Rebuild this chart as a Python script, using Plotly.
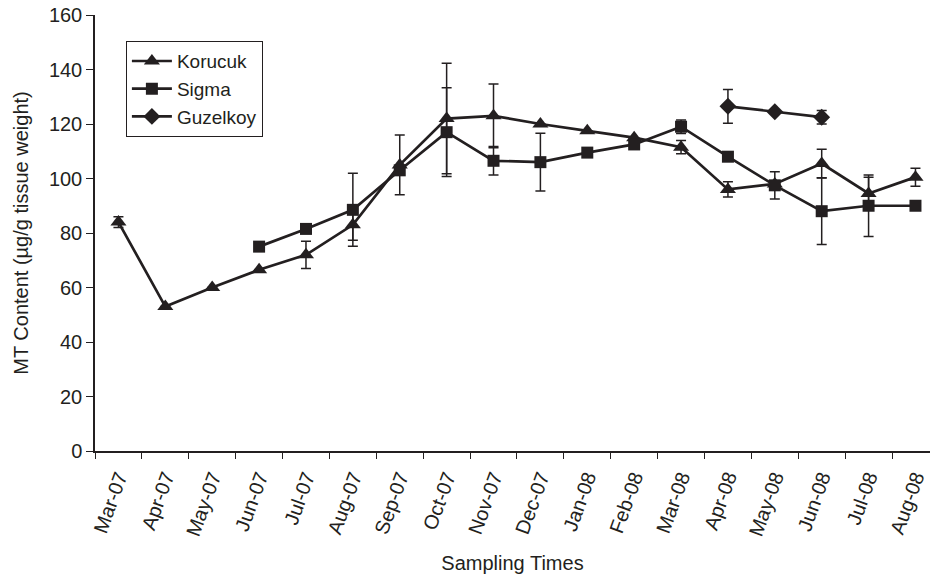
import plotly.graph_objects as go

months = ["Mar-07", "Apr-07", "May-07", "Jun-07", "Jul-07", "Aug-07", "Sep-07", "Oct-07", "Nov-07",
          "Dec-07", "Jan-08", "Feb-08", "Mar-08", "Apr-08", "May-08", "Jun-08", "Jul-08", "Aug-08"]

korucuk = [84, 53, 60, 66.5, 72, 83, 105, 122, 123, 120, 117.5, 115, 111.5, 96, 98, 105.5, 94.5, 100.5]
korucuk_err = [2, 0, 0, 0, 5, 5.7, 11, 20.3, 11.7, 0, 0, 0, 2.4, 2.8, 0, 5.2, 6, 3.3]

sigma = [None, None, None, 75, 81.5, 88.5, 103, 117, 106.5, 106, 109.5, 112.5, 119, 108, 97.5, 88, 90, 90]
sigma_err = [None, None, None, 0, 0, 13.4, 0, 16.3, 5.2, 10.6, 0, 0, 2.5, 1.5, 5, 12.2, 11.3, 0]

guzelkoy = [None] * 13 + [126.5, 124.5, 122.5, None, None]
guzelkoy_err = [None] * 13 + [6.2, 0, 2.5, None, None]

yticks = [0, 20, 40, 60, 80, 100, 120, 140, 160]

INK = "#231f20"
FONT = "Liberation Sans, Arial, sans-serif"

def series(name, y, err, symbol, size):
    return go.Scatter(
        x=months, y=y, name=name, mode="lines+markers",
        line=dict(color=INK, width=2.7),
        marker=dict(symbol=symbol, size=size, color=INK),
        error_y=dict(type="data", array=err, visible=True, color=INK, thickness=1.5, width=5),
        connectgaps=False,
    )

fig = go.Figure()
fig.add_trace(series("Korucuk", korucuk, korucuk_err, "triangle-up", 14))
fig.add_trace(series("Sigma", sigma, sigma_err, "square", 12))
fig.add_trace(series("Guzelkoy", guzelkoy, guzelkoy_err, "diamond", 13))

fig.update_layout(
    width=930, height=577,
    margin=dict(l=95, r=0, t=15, b=126),
    paper_bgcolor="white", plot_bgcolor="white",
    font=dict(family=FONT, size=20, color=INK),
    showlegend=True,
    legend=dict(x=0.037, y=0.94, xanchor="left", yanchor="top",
                bordercolor=INK, borderwidth=1, bgcolor="white",
                font=dict(size=19), tracegroupgap=0, itemwidth=40),
    xaxis=dict(
        type="category", categoryorder="array", categoryarray=months,
        range=[-0.5, 17.31], tickson="boundaries",
        ticks="outside", ticklen=6, tickcolor=INK, tickwidth=1,
        showline=True, linecolor=INK, linewidth=1.5,
        showgrid=False, zeroline=False, tickangle=-70,
        tickfont=dict(size=20), ticklabelstandoff=5,
        ticklabeloverflow="allow",
        title=dict(text="Sampling Times", font=dict(size=20), standoff=18),
        automargin=False,
    ),
    yaxis=dict(
        range=[0, 160], tickvals=yticks, ticks="outside", ticklen=7,
        tickcolor=INK, tickwidth=1, showline=True, linecolor=INK, linewidth=1.5,
        showgrid=False, zeroline=False, tickfont=dict(size=20),
        ticklabeloverflow="allow",
        title=dict(text="MT Content (µg/g tissue weight)", font=dict(size=20), standoff=15),
        automargin=False,
    ),
)

fig.write_html("out.html", config={"displayModeBar": False},
               post_script="document.body.style.margin='0px';")
